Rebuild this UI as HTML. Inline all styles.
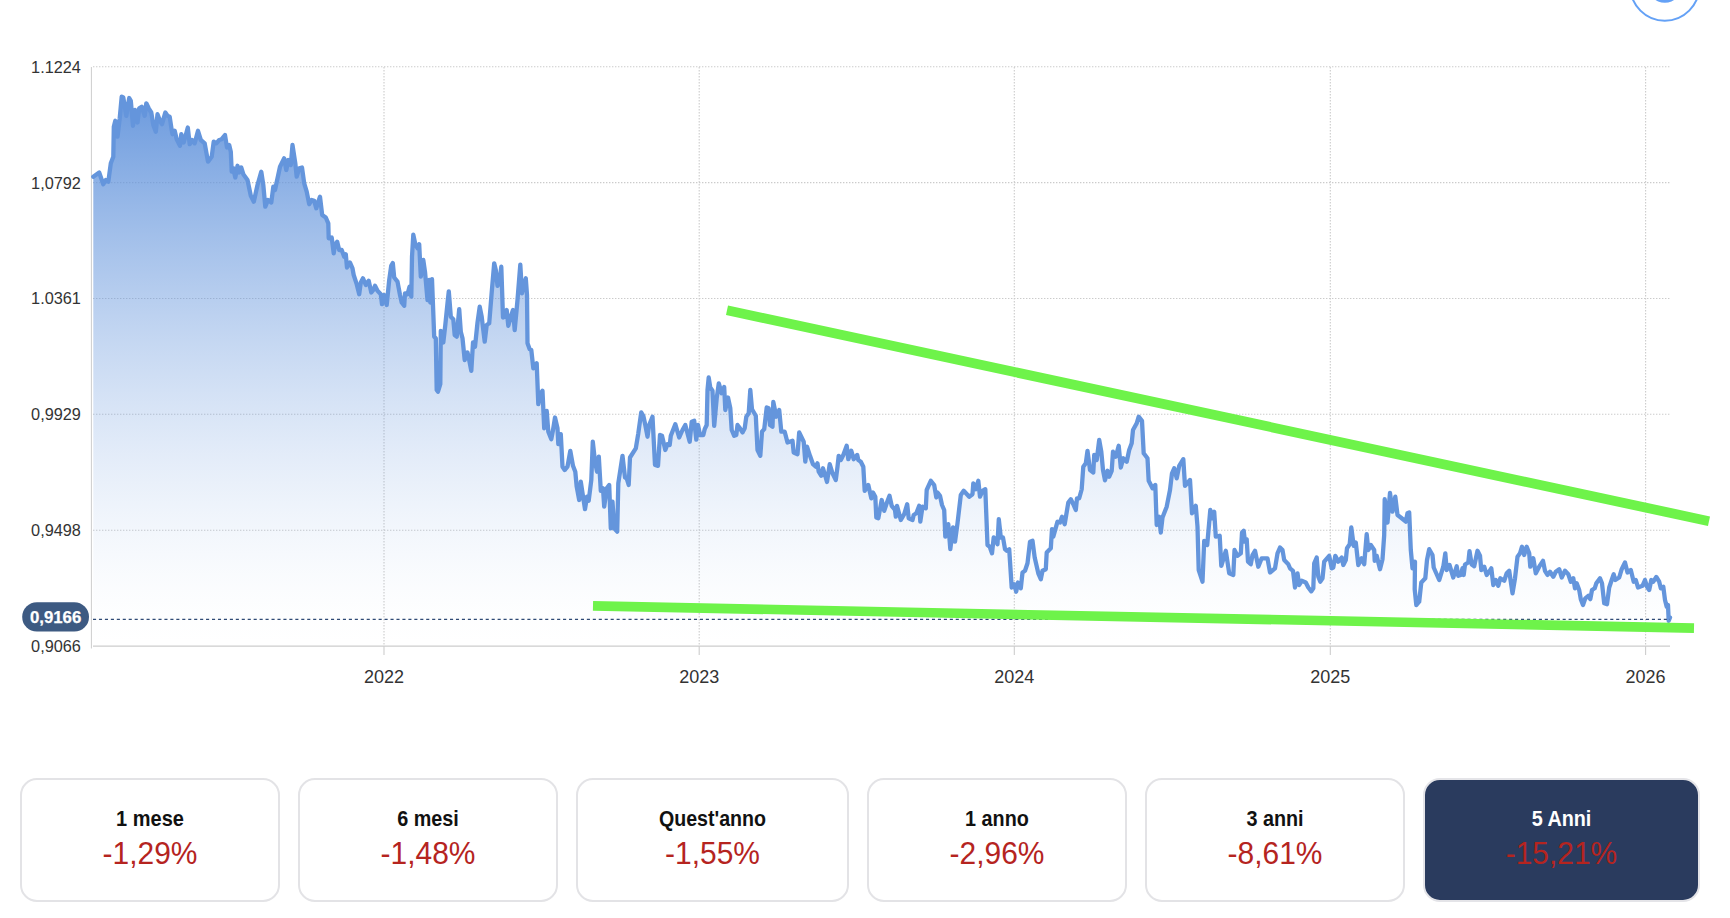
<!DOCTYPE html>
<html><head><meta charset="utf-8"><title>chart</title>
<style>
html,body{margin:0;padding:0;background:#fff;}
body{width:1730px;height:918px;position:relative;overflow:hidden;font-family:"Liberation Sans",sans-serif;}
svg text{font-family:"Liberation Sans",sans-serif;}
.card{position:absolute;top:778px;height:124px;box-sizing:border-box;border:2px solid #e3e3e6;border-radius:17px;background:#fff;text-align:center;}
.card.act{background:#2a3b5e;border-color:#e4e4e8;}
.card .l{position:absolute;left:0;right:0;top:26.5px;font-size:21.5px;line-height:24px;font-weight:bold;color:#111;}
.card.act .l{color:#fff;}
.card .v{position:absolute;left:0;right:0;top:53px;font-size:31.5px;line-height:40px;color:#b5241f;transform:scaleX(0.95);}
</style></head><body>
<svg width="1730" height="918" viewBox="0 0 1730 918" style="position:absolute;left:0;top:0">
<defs><linearGradient id="g" gradientUnits="userSpaceOnUse" x1="0" y1="96" x2="0" y2="646"><stop offset="0.00" stop-color="#6495dc" stop-opacity="0.955"/><stop offset="0.05" stop-color="#6495dc" stop-opacity="0.881"/><stop offset="0.10" stop-color="#6495dc" stop-opacity="0.809"/><stop offset="0.15" stop-color="#6495dc" stop-opacity="0.739"/><stop offset="0.20" stop-color="#6495dc" stop-opacity="0.671"/><stop offset="0.25" stop-color="#6495dc" stop-opacity="0.606"/><stop offset="0.30" stop-color="#6495dc" stop-opacity="0.544"/><stop offset="0.35" stop-color="#6495dc" stop-opacity="0.484"/><stop offset="0.40" stop-color="#6495dc" stop-opacity="0.426"/><stop offset="0.45" stop-color="#6495dc" stop-opacity="0.371"/><stop offset="0.50" stop-color="#6495dc" stop-opacity="0.319"/><stop offset="0.55" stop-color="#6495dc" stop-opacity="0.270"/><stop offset="0.60" stop-color="#6495dc" stop-opacity="0.225"/><stop offset="0.65" stop-color="#6495dc" stop-opacity="0.182"/><stop offset="0.70" stop-color="#6495dc" stop-opacity="0.143"/><stop offset="0.75" stop-color="#6495dc" stop-opacity="0.107"/><stop offset="0.80" stop-color="#6495dc" stop-opacity="0.075"/><stop offset="0.85" stop-color="#6495dc" stop-opacity="0.048"/><stop offset="0.90" stop-color="#6495dc" stop-opacity="0.025"/><stop offset="0.95" stop-color="#6495dc" stop-opacity="0.008"/><stop offset="1.00" stop-color="#6495dc" stop-opacity="0.000"/></linearGradient></defs>
<circle cx="1664.8" cy="-13.8" r="34.5" fill="none" stroke="#64a1f6" stroke-width="2"/>
<circle cx="1664.8" cy="-14.6" r="17.3" fill="#64a1f6"/>
<line x1="93" x2="1670" y1="66.8" y2="66.8" stroke="#cbcbcb" stroke-width="1.1" stroke-dasharray="1.4 1.6"/>
<line x1="93" x2="1670" y1="182.6" y2="182.6" stroke="#cbcbcb" stroke-width="1.1" stroke-dasharray="1.4 1.6"/>
<line x1="93" x2="1670" y1="298.5" y2="298.5" stroke="#cbcbcb" stroke-width="1.1" stroke-dasharray="1.4 1.6"/>
<line x1="93" x2="1670" y1="414.3" y2="414.3" stroke="#cbcbcb" stroke-width="1.1" stroke-dasharray="1.4 1.6"/>
<line x1="93" x2="1670" y1="530.2" y2="530.2" stroke="#cbcbcb" stroke-width="1.1" stroke-dasharray="1.4 1.6"/>
<line x1="384.0" x2="384.0" y1="67" y2="646" stroke="#cbcbcb" stroke-width="1.1" stroke-dasharray="1.4 1.6"/>
<line x1="699.2" x2="699.2" y1="67" y2="646" stroke="#cbcbcb" stroke-width="1.1" stroke-dasharray="1.4 1.6"/>
<line x1="1014.3" x2="1014.3" y1="67" y2="646" stroke="#cbcbcb" stroke-width="1.1" stroke-dasharray="1.4 1.6"/>
<line x1="1330.3" x2="1330.3" y1="67" y2="646" stroke="#cbcbcb" stroke-width="1.1" stroke-dasharray="1.4 1.6"/>
<line x1="1645.6" x2="1645.6" y1="67" y2="646" stroke="#cbcbcb" stroke-width="1.1" stroke-dasharray="1.4 1.6"/>
<path d="M93.3,176.7 L99.2,172.5 L103.3,184.2 L105.8,180.0 L108.3,181.7 L110.8,163.3 L113.3,156.7 L113.8,126.7 L115.3,120.8 L117.5,136.7 L119.7,118.3 L121.7,96.7 L123.3,97.5 L126.3,115.8 L129.2,98.0 L130.8,100.8 L133.0,125.8 L135.0,110.0 L137.5,122.5 L139.2,108.3 L141.7,106.7 L144.7,115.8 L146.3,103.3 L148.7,108.3 L151.3,112.5 L153.3,125.0 L155.8,131.7 L157.5,114.2 L160.0,120.8 L162.0,124.2 L165.3,112.5 L167.5,115.8 L169.7,116.7 L171.7,130.0 L172.5,134.2 L174.7,130.8 L176.7,139.2 L180.0,145.8 L181.3,134.2 L183.7,142.5 L185.8,135.0 L187.8,127.5 L189.7,144.2 L192.0,140.0 L194.7,143.3 L198.0,130.8 L200.8,140.0 L204.7,143.3 L208.0,161.7 L211.7,156.7 L213.7,141.7 L216.3,143.3 L219.2,140.0 L221.7,139.2 L225.0,135.0 L227.0,147.5 L229.2,145.0 L230.8,151.7 L231.7,171.7 L233.3,168.3 L235.3,177.5 L237.5,165.8 L239.2,172.5 L241.3,167.5 L243.3,174.2 L247.5,180.0 L250.8,195.8 L253.8,201.7 L257.5,185.0 L261.3,171.7 L263.3,185.0 L265.3,206.7 L268.0,200.0 L271.3,202.5 L273.3,186.7 L275.0,190.0 L280.0,166.7 L284.2,158.3 L286.3,170.0 L288.3,160.0 L290.8,165.0 L292.5,145.0 L295.3,163.3 L296.7,176.7 L299.2,168.3 L302.0,167.5 L304.2,183.3 L306.7,191.7 L309.2,204.2 L311.7,200.0 L314.2,200.8 L316.3,208.3 L318.3,201.7 L320.0,196.7 L322.2,215.0 L325.8,217.5 L328.3,223.3 L328.7,238.3 L331.7,237.5 L333.7,253.3 L335.0,245.0 L337.2,241.7 L339.2,250.0 L341.7,250.0 L344.2,256.7 L345.8,254.2 L347.0,267.5 L350.0,262.5 L352.5,268.3 L353.7,275.0 L356.7,284.2 L359.2,294.2 L360.8,282.5 L363.0,278.3 L365.8,285.0 L368.7,280.8 L371.3,292.5 L373.3,290.0 L375.0,285.8 L377.5,290.8 L380.8,294.2 L382.0,304.2 L384.2,295.0 L386.7,305.0 L389.2,280.0 L391.2,265.8 L392.8,263.0 L394.2,277.5 L397.5,281.7 L400.0,295.0 L401.7,302.5 L404.2,305.8 L405.0,293.3 L407.5,294.2 L409.5,286.7 L411.3,296.7 L412.0,256.7 L413.3,234.7 L415.3,244.2 L417.5,248.3 L419.2,244.2 L420.8,276.7 L423.3,260.0 L425.0,271.7 L427.5,300.0 L429.2,280.0 L430.3,302.5 L432.0,279.2 L434.2,336.7 L435.8,338.3 L436.7,390.0 L438.0,391.7 L440.3,384.2 L440.8,330.8 L443.3,342.5 L445.3,325.0 L447.5,303.3 L448.8,291.3 L450.8,316.7 L453.3,319.2 L454.7,335.0 L456.7,336.7 L459.2,309.2 L460.8,331.7 L462.5,338.3 L464.7,360.0 L467.5,352.5 L469.2,360.0 L471.3,370.8 L473.0,342.5 L475.0,346.7 L477.5,322.5 L479.7,306.7 L481.7,316.7 L484.7,341.7 L486.7,325.0 L489.2,323.3 L491.7,292.5 L494.2,263.3 L495.8,270.0 L497.5,285.8 L499.2,283.3 L501.3,266.7 L503.0,317.5 L505.0,316.7 L506.7,310.0 L508.3,325.8 L510.8,316.7 L513.0,310.0 L514.7,330.0 L517.5,300.0 L520.3,264.7 L522.0,293.3 L524.2,283.3 L525.8,278.3 L527.0,295.0 L527.5,343.3 L529.7,349.2 L531.3,350.0 L533.3,368.3 L536.7,363.3 L538.3,404.2 L540.8,393.3 L542.5,390.8 L544.2,428.3 L546.7,410.8 L548.3,431.7 L551.3,439.2 L553.0,430.0 L555.0,417.5 L557.5,428.3 L558.3,444.2 L560.8,434.2 L562.5,466.7 L564.7,470.0 L567.5,466.7 L570.3,450.8 L573.0,465.8 L575.3,471.7 L576.7,486.7 L579.2,500.0 L580.8,481.7 L583.3,498.3 L585.0,509.2 L587.0,496.7 L588.7,500.8 L591.3,480.0 L592.8,441.7 L595.0,461.7 L597.0,471.7 L598.8,456.7 L600.8,490.8 L603.0,488.3 L604.2,506.7 L606.7,488.3 L609.2,485.0 L610.8,528.3 L612.5,501.7 L614.2,528.3 L617.2,531.7 L618.3,483.3 L622.5,455.8 L625.0,477.5 L626.7,478.3 L628.7,485.0 L630.0,457.5 L635.8,448.3 L638.3,433.3 L641.2,412.5 L643.3,415.8 L645.3,425.0 L647.5,436.7 L649.2,425.0 L652.5,416.7 L655.0,465.0 L658.0,465.8 L660.0,435.0 L662.0,435.8 L665.3,450.0 L667.5,444.2 L669.7,445.0 L670.8,435.8 L675.3,424.2 L679.2,437.5 L682.5,430.0 L685.3,425.0 L689.7,441.7 L691.7,421.7 L694.2,420.8 L696.3,439.7 L698.0,425.0 L700.0,435.0 L703.3,435.0 L704.7,429.2 L706.7,425.0 L707.5,390.0 L708.7,377.5 L710.3,387.5 L712.5,390.8 L714.2,425.8 L716.7,398.3 L718.8,383.3 L721.7,393.3 L724.2,387.0 L725.3,410.0 L728.0,397.5 L730.3,408.3 L731.7,430.0 L734.2,435.8 L736.3,435.0 L737.5,425.0 L740.0,428.3 L742.5,432.5 L744.7,428.3 L746.3,416.7 L748.7,413.3 L750.3,390.0 L752.0,409.2 L755.8,415.8 L757.5,450.0 L760.3,455.8 L762.0,431.7 L764.2,429.2 L766.7,407.5 L768.7,408.3 L770.0,425.0 L772.5,426.7 L773.3,402.0 L776.3,416.7 L779.2,410.0 L781.3,431.7 L784.7,431.7 L787.5,442.5 L792.5,440.8 L793.7,452.5 L797.5,454.2 L799.2,432.5 L803.7,441.7 L805.3,461.7 L807.0,446.7 L810.0,455.8 L813.0,464.2 L815.8,466.7 L817.5,463.3 L818.7,471.7 L821.3,475.8 L823.0,468.3 L825.0,475.0 L827.0,482.0 L829.7,464.2 L832.5,473.3 L835.8,480.0 L837.5,466.7 L838.7,455.8 L840.8,460.0 L843.3,455.0 L846.7,445.8 L848.3,459.2 L851.3,450.8 L853.7,459.2 L857.2,455.0 L858.3,460.0 L860.8,461.7 L863.3,466.7 L864.7,490.8 L868.3,485.0 L871.3,498.3 L873.0,492.5 L875.3,496.7 L876.3,517.5 L878.3,518.3 L881.7,500.0 L884.2,510.8 L886.7,503.3 L889.5,495.8 L891.7,505.8 L895.0,510.0 L895.8,516.7 L897.0,505.8 L900.8,520.0 L904.2,514.2 L907.2,504.2 L908.7,518.3 L912.5,520.0 L913.7,515.0 L916.3,513.3 L919.2,505.8 L920.3,521.7 L922.5,506.7 L925.8,508.3 L926.7,490.0 L930.8,480.8 L934.2,485.0 L936.3,497.5 L937.5,492.5 L940.0,495.8 L942.0,505.0 L944.2,510.0 L945.3,536.7 L948.3,524.2 L950.3,549.2 L953.0,527.5 L955.0,541.7 L957.5,523.3 L960.8,495.0 L963.7,490.8 L969.2,496.7 L972.5,494.2 L973.3,483.3 L975.8,489.2 L978.3,480.8 L980.0,496.7 L982.5,490.8 L985.3,489.2 L987.5,545.0 L989.7,546.7 L992.0,553.3 L993.7,537.5 L995.8,540.0 L997.5,544.2 L998.8,519.2 L1000.8,537.5 L1003.0,537.5 L1005.0,549.2 L1006.7,550.8 L1009.2,549.2 L1011.7,587.5 L1014.2,584.2 L1016.2,591.7 L1018.0,582.5 L1020.8,588.3 L1022.5,572.5 L1025.0,570.8 L1027.5,563.3 L1030.0,541.7 L1032.5,540.8 L1034.7,557.5 L1038.3,573.3 L1040.8,579.2 L1042.5,570.8 L1045.8,569.2 L1046.7,552.5 L1050.8,548.3 L1052.0,529.2 L1053.3,536.7 L1057.5,521.7 L1060.0,522.5 L1062.0,516.7 L1064.7,524.2 L1068.3,502.5 L1070.8,499.2 L1073.3,504.2 L1075.8,510.0 L1077.0,498.3 L1079.2,498.3 L1081.7,489.2 L1083.3,466.7 L1085.8,463.3 L1087.5,450.8 L1090.0,470.0 L1093.3,472.5 L1094.2,455.0 L1096.7,460.0 L1099.2,440.0 L1101.3,451.7 L1103.0,470.0 L1105.0,480.3 L1107.5,470.8 L1109.2,476.7 L1111.7,470.8 L1113.0,451.7 L1115.8,456.7 L1118.7,445.8 L1120.8,467.5 L1123.3,458.3 L1126.7,461.7 L1129.2,450.0 L1131.7,443.3 L1133.0,430.0 L1136.7,423.3 L1138.7,416.7 L1142.0,420.8 L1143.7,453.3 L1147.5,458.3 L1148.7,480.8 L1152.5,488.3 L1155.3,485.0 L1156.7,525.0 L1159.2,516.7 L1160.8,532.5 L1162.5,517.5 L1166.7,506.7 L1170.0,490.0 L1172.0,473.3 L1174.2,468.3 L1176.7,478.3 L1179.2,465.8 L1183.3,459.2 L1185.0,485.8 L1190.0,480.0 L1192.0,513.3 L1195.8,505.8 L1197.5,526.7 L1198.7,570.0 L1202.5,581.7 L1204.2,540.8 L1207.2,545.0 L1210.3,510.0 L1212.0,518.3 L1214.2,511.7 L1215.8,536.7 L1219.7,535.8 L1221.3,565.8 L1225.8,550.8 L1229.2,573.3 L1233.3,575.0 L1234.5,550.0 L1237.5,555.8 L1240.8,553.3 L1242.0,532.5 L1243.7,530.8 L1245.0,541.7 L1246.7,539.2 L1248.0,561.7 L1250.8,564.2 L1252.5,555.0 L1255.0,550.8 L1258.3,566.7 L1261.7,558.3 L1267.5,558.3 L1270.0,572.5 L1275.0,568.3 L1277.5,553.3 L1280.0,547.5 L1282.5,550.0 L1284.2,560.0 L1288.3,564.2 L1290.0,568.3 L1293.0,570.8 L1295.0,587.5 L1297.5,573.3 L1299.2,585.0 L1301.7,580.8 L1305.8,582.5 L1308.3,587.5 L1311.3,591.3 L1313.3,588.3 L1314.2,563.3 L1316.7,557.5 L1318.3,576.7 L1320.3,581.7 L1322.5,578.3 L1324.2,561.7 L1329.2,555.8 L1331.7,568.3 L1333.3,567.5 L1335.3,555.8 L1338.3,561.7 L1341.7,557.5 L1343.3,565.0 L1345.8,560.0 L1347.0,548.3 L1349.7,544.2 L1351.3,527.5 L1353.7,545.8 L1355.8,542.5 L1358.3,565.0 L1361.7,558.3 L1364.2,564.2 L1366.7,534.2 L1368.3,550.0 L1370.8,545.0 L1374.2,550.0 L1374.7,560.8 L1376.7,555.8 L1380.0,569.2 L1382.5,559.2 L1384.2,535.0 L1384.7,499.2 L1387.5,522.5 L1390.0,493.0 L1392.5,511.7 L1395.3,496.7 L1397.5,515.0 L1400.8,517.5 L1405.8,521.7 L1407.5,513.3 L1409.2,512.5 L1410.8,550.0 L1412.5,568.3 L1415.0,561.7 L1414.7,589.2 L1416.3,605.0 L1419.2,601.7 L1421.3,582.5 L1425.3,578.3 L1427.0,560.0 L1429.2,549.2 L1432.5,555.0 L1433.7,567.5 L1439.2,580.0 L1443.3,566.7 L1445.3,553.3 L1446.7,570.0 L1449.5,565.0 L1453.3,577.5 L1456.7,566.3 L1458.3,575.8 L1460.8,575.0 L1462.5,568.3 L1463.7,575.0 L1465.0,564.5 L1468.3,562.5 L1469.5,551.2 L1471.7,564.5 L1474.2,566.3 L1477.5,550.8 L1480.0,555.8 L1481.3,570.0 L1484.2,566.7 L1486.7,575.0 L1489.2,571.7 L1491.3,568.3 L1493.3,585.0 L1495.8,580.0 L1498.3,585.8 L1500.3,578.3 L1504.2,580.8 L1506.7,573.3 L1509.2,570.8 L1510.8,581.7 L1512.5,593.3 L1515.0,578.3 L1517.5,556.7 L1520.0,553.3 L1522.0,546.7 L1524.2,555.0 L1526.7,546.7 L1529.2,553.3 L1530.3,566.7 L1533.3,558.3 L1535.8,573.3 L1539.2,566.7 L1543.0,560.8 L1545.0,570.8 L1547.5,575.0 L1550.0,571.7 L1553.3,576.7 L1555.8,571.7 L1559.2,569.2 L1561.7,577.5 L1565.0,570.8 L1568.3,574.2 L1570.8,581.7 L1573.3,578.3 L1575.0,588.3 L1576.7,583.3 L1579.2,590.0 L1580.8,599.2 L1583.0,605.0 L1585.3,598.3 L1588.3,595.8 L1590.3,599.2 L1592.0,590.0 L1594.7,588.3 L1596.3,583.3 L1600.0,578.3 L1602.0,583.3 L1604.2,603.3 L1607.0,604.2 L1609.2,587.5 L1611.7,580.0 L1613.7,574.2 L1615.3,580.0 L1619.2,577.5 L1621.7,569.2 L1625.0,562.5 L1627.5,572.5 L1630.8,570.0 L1633.7,581.7 L1635.8,580.0 L1638.0,587.5 L1642.5,585.8 L1645.0,580.0 L1647.0,586.7 L1649.2,590.0 L1651.3,580.0 L1653.3,581.7 L1656.3,577.0 L1659.2,581.7 L1660.8,588.3 L1663.3,586.7 L1665.0,600.0 L1666.7,606.7 L1668.0,605.0 L1668.7,620.8 L1670.0,617.5 L1670.0,646 L93.3,646 Z" fill="url(#g)" stroke="none"/>
<line x1="91.4" x2="91.4" y1="67" y2="648.5" stroke="#cdcdcd" stroke-width="1"/>
<line x1="93" x2="1670" y1="646.1" y2="646.1" stroke="#cdcdcd" stroke-width="1.1"/>
<line x1="384.0" x2="384.0" y1="646" y2="655" stroke="#cdcdcd" stroke-width="1.1"/>
<line x1="699.2" x2="699.2" y1="646" y2="655" stroke="#cdcdcd" stroke-width="1.1"/>
<line x1="1014.3" x2="1014.3" y1="646" y2="655" stroke="#cdcdcd" stroke-width="1.1"/>
<line x1="1330.3" x2="1330.3" y1="646" y2="655" stroke="#cdcdcd" stroke-width="1.1"/>
<line x1="1645.6" x2="1645.6" y1="646" y2="655" stroke="#cdcdcd" stroke-width="1.1"/>
<path d="M93.3,176.7 L99.2,172.5 L103.3,184.2 L105.8,180.0 L108.3,181.7 L110.8,163.3 L113.3,156.7 L113.8,126.7 L115.3,120.8 L117.5,136.7 L119.7,118.3 L121.7,96.7 L123.3,97.5 L126.3,115.8 L129.2,98.0 L130.8,100.8 L133.0,125.8 L135.0,110.0 L137.5,122.5 L139.2,108.3 L141.7,106.7 L144.7,115.8 L146.3,103.3 L148.7,108.3 L151.3,112.5 L153.3,125.0 L155.8,131.7 L157.5,114.2 L160.0,120.8 L162.0,124.2 L165.3,112.5 L167.5,115.8 L169.7,116.7 L171.7,130.0 L172.5,134.2 L174.7,130.8 L176.7,139.2 L180.0,145.8 L181.3,134.2 L183.7,142.5 L185.8,135.0 L187.8,127.5 L189.7,144.2 L192.0,140.0 L194.7,143.3 L198.0,130.8 L200.8,140.0 L204.7,143.3 L208.0,161.7 L211.7,156.7 L213.7,141.7 L216.3,143.3 L219.2,140.0 L221.7,139.2 L225.0,135.0 L227.0,147.5 L229.2,145.0 L230.8,151.7 L231.7,171.7 L233.3,168.3 L235.3,177.5 L237.5,165.8 L239.2,172.5 L241.3,167.5 L243.3,174.2 L247.5,180.0 L250.8,195.8 L253.8,201.7 L257.5,185.0 L261.3,171.7 L263.3,185.0 L265.3,206.7 L268.0,200.0 L271.3,202.5 L273.3,186.7 L275.0,190.0 L280.0,166.7 L284.2,158.3 L286.3,170.0 L288.3,160.0 L290.8,165.0 L292.5,145.0 L295.3,163.3 L296.7,176.7 L299.2,168.3 L302.0,167.5 L304.2,183.3 L306.7,191.7 L309.2,204.2 L311.7,200.0 L314.2,200.8 L316.3,208.3 L318.3,201.7 L320.0,196.7 L322.2,215.0 L325.8,217.5 L328.3,223.3 L328.7,238.3 L331.7,237.5 L333.7,253.3 L335.0,245.0 L337.2,241.7 L339.2,250.0 L341.7,250.0 L344.2,256.7 L345.8,254.2 L347.0,267.5 L350.0,262.5 L352.5,268.3 L353.7,275.0 L356.7,284.2 L359.2,294.2 L360.8,282.5 L363.0,278.3 L365.8,285.0 L368.7,280.8 L371.3,292.5 L373.3,290.0 L375.0,285.8 L377.5,290.8 L380.8,294.2 L382.0,304.2 L384.2,295.0 L386.7,305.0 L389.2,280.0 L391.2,265.8 L392.8,263.0 L394.2,277.5 L397.5,281.7 L400.0,295.0 L401.7,302.5 L404.2,305.8 L405.0,293.3 L407.5,294.2 L409.5,286.7 L411.3,296.7 L412.0,256.7 L413.3,234.7 L415.3,244.2 L417.5,248.3 L419.2,244.2 L420.8,276.7 L423.3,260.0 L425.0,271.7 L427.5,300.0 L429.2,280.0 L430.3,302.5 L432.0,279.2 L434.2,336.7 L435.8,338.3 L436.7,390.0 L438.0,391.7 L440.3,384.2 L440.8,330.8 L443.3,342.5 L445.3,325.0 L447.5,303.3 L448.8,291.3 L450.8,316.7 L453.3,319.2 L454.7,335.0 L456.7,336.7 L459.2,309.2 L460.8,331.7 L462.5,338.3 L464.7,360.0 L467.5,352.5 L469.2,360.0 L471.3,370.8 L473.0,342.5 L475.0,346.7 L477.5,322.5 L479.7,306.7 L481.7,316.7 L484.7,341.7 L486.7,325.0 L489.2,323.3 L491.7,292.5 L494.2,263.3 L495.8,270.0 L497.5,285.8 L499.2,283.3 L501.3,266.7 L503.0,317.5 L505.0,316.7 L506.7,310.0 L508.3,325.8 L510.8,316.7 L513.0,310.0 L514.7,330.0 L517.5,300.0 L520.3,264.7 L522.0,293.3 L524.2,283.3 L525.8,278.3 L527.0,295.0 L527.5,343.3 L529.7,349.2 L531.3,350.0 L533.3,368.3 L536.7,363.3 L538.3,404.2 L540.8,393.3 L542.5,390.8 L544.2,428.3 L546.7,410.8 L548.3,431.7 L551.3,439.2 L553.0,430.0 L555.0,417.5 L557.5,428.3 L558.3,444.2 L560.8,434.2 L562.5,466.7 L564.7,470.0 L567.5,466.7 L570.3,450.8 L573.0,465.8 L575.3,471.7 L576.7,486.7 L579.2,500.0 L580.8,481.7 L583.3,498.3 L585.0,509.2 L587.0,496.7 L588.7,500.8 L591.3,480.0 L592.8,441.7 L595.0,461.7 L597.0,471.7 L598.8,456.7 L600.8,490.8 L603.0,488.3 L604.2,506.7 L606.7,488.3 L609.2,485.0 L610.8,528.3 L612.5,501.7 L614.2,528.3 L617.2,531.7 L618.3,483.3 L622.5,455.8 L625.0,477.5 L626.7,478.3 L628.7,485.0 L630.0,457.5 L635.8,448.3 L638.3,433.3 L641.2,412.5 L643.3,415.8 L645.3,425.0 L647.5,436.7 L649.2,425.0 L652.5,416.7 L655.0,465.0 L658.0,465.8 L660.0,435.0 L662.0,435.8 L665.3,450.0 L667.5,444.2 L669.7,445.0 L670.8,435.8 L675.3,424.2 L679.2,437.5 L682.5,430.0 L685.3,425.0 L689.7,441.7 L691.7,421.7 L694.2,420.8 L696.3,439.7 L698.0,425.0 L700.0,435.0 L703.3,435.0 L704.7,429.2 L706.7,425.0 L707.5,390.0 L708.7,377.5 L710.3,387.5 L712.5,390.8 L714.2,425.8 L716.7,398.3 L718.8,383.3 L721.7,393.3 L724.2,387.0 L725.3,410.0 L728.0,397.5 L730.3,408.3 L731.7,430.0 L734.2,435.8 L736.3,435.0 L737.5,425.0 L740.0,428.3 L742.5,432.5 L744.7,428.3 L746.3,416.7 L748.7,413.3 L750.3,390.0 L752.0,409.2 L755.8,415.8 L757.5,450.0 L760.3,455.8 L762.0,431.7 L764.2,429.2 L766.7,407.5 L768.7,408.3 L770.0,425.0 L772.5,426.7 L773.3,402.0 L776.3,416.7 L779.2,410.0 L781.3,431.7 L784.7,431.7 L787.5,442.5 L792.5,440.8 L793.7,452.5 L797.5,454.2 L799.2,432.5 L803.7,441.7 L805.3,461.7 L807.0,446.7 L810.0,455.8 L813.0,464.2 L815.8,466.7 L817.5,463.3 L818.7,471.7 L821.3,475.8 L823.0,468.3 L825.0,475.0 L827.0,482.0 L829.7,464.2 L832.5,473.3 L835.8,480.0 L837.5,466.7 L838.7,455.8 L840.8,460.0 L843.3,455.0 L846.7,445.8 L848.3,459.2 L851.3,450.8 L853.7,459.2 L857.2,455.0 L858.3,460.0 L860.8,461.7 L863.3,466.7 L864.7,490.8 L868.3,485.0 L871.3,498.3 L873.0,492.5 L875.3,496.7 L876.3,517.5 L878.3,518.3 L881.7,500.0 L884.2,510.8 L886.7,503.3 L889.5,495.8 L891.7,505.8 L895.0,510.0 L895.8,516.7 L897.0,505.8 L900.8,520.0 L904.2,514.2 L907.2,504.2 L908.7,518.3 L912.5,520.0 L913.7,515.0 L916.3,513.3 L919.2,505.8 L920.3,521.7 L922.5,506.7 L925.8,508.3 L926.7,490.0 L930.8,480.8 L934.2,485.0 L936.3,497.5 L937.5,492.5 L940.0,495.8 L942.0,505.0 L944.2,510.0 L945.3,536.7 L948.3,524.2 L950.3,549.2 L953.0,527.5 L955.0,541.7 L957.5,523.3 L960.8,495.0 L963.7,490.8 L969.2,496.7 L972.5,494.2 L973.3,483.3 L975.8,489.2 L978.3,480.8 L980.0,496.7 L982.5,490.8 L985.3,489.2 L987.5,545.0 L989.7,546.7 L992.0,553.3 L993.7,537.5 L995.8,540.0 L997.5,544.2 L998.8,519.2 L1000.8,537.5 L1003.0,537.5 L1005.0,549.2 L1006.7,550.8 L1009.2,549.2 L1011.7,587.5 L1014.2,584.2 L1016.2,591.7 L1018.0,582.5 L1020.8,588.3 L1022.5,572.5 L1025.0,570.8 L1027.5,563.3 L1030.0,541.7 L1032.5,540.8 L1034.7,557.5 L1038.3,573.3 L1040.8,579.2 L1042.5,570.8 L1045.8,569.2 L1046.7,552.5 L1050.8,548.3 L1052.0,529.2 L1053.3,536.7 L1057.5,521.7 L1060.0,522.5 L1062.0,516.7 L1064.7,524.2 L1068.3,502.5 L1070.8,499.2 L1073.3,504.2 L1075.8,510.0 L1077.0,498.3 L1079.2,498.3 L1081.7,489.2 L1083.3,466.7 L1085.8,463.3 L1087.5,450.8 L1090.0,470.0 L1093.3,472.5 L1094.2,455.0 L1096.7,460.0 L1099.2,440.0 L1101.3,451.7 L1103.0,470.0 L1105.0,480.3 L1107.5,470.8 L1109.2,476.7 L1111.7,470.8 L1113.0,451.7 L1115.8,456.7 L1118.7,445.8 L1120.8,467.5 L1123.3,458.3 L1126.7,461.7 L1129.2,450.0 L1131.7,443.3 L1133.0,430.0 L1136.7,423.3 L1138.7,416.7 L1142.0,420.8 L1143.7,453.3 L1147.5,458.3 L1148.7,480.8 L1152.5,488.3 L1155.3,485.0 L1156.7,525.0 L1159.2,516.7 L1160.8,532.5 L1162.5,517.5 L1166.7,506.7 L1170.0,490.0 L1172.0,473.3 L1174.2,468.3 L1176.7,478.3 L1179.2,465.8 L1183.3,459.2 L1185.0,485.8 L1190.0,480.0 L1192.0,513.3 L1195.8,505.8 L1197.5,526.7 L1198.7,570.0 L1202.5,581.7 L1204.2,540.8 L1207.2,545.0 L1210.3,510.0 L1212.0,518.3 L1214.2,511.7 L1215.8,536.7 L1219.7,535.8 L1221.3,565.8 L1225.8,550.8 L1229.2,573.3 L1233.3,575.0 L1234.5,550.0 L1237.5,555.8 L1240.8,553.3 L1242.0,532.5 L1243.7,530.8 L1245.0,541.7 L1246.7,539.2 L1248.0,561.7 L1250.8,564.2 L1252.5,555.0 L1255.0,550.8 L1258.3,566.7 L1261.7,558.3 L1267.5,558.3 L1270.0,572.5 L1275.0,568.3 L1277.5,553.3 L1280.0,547.5 L1282.5,550.0 L1284.2,560.0 L1288.3,564.2 L1290.0,568.3 L1293.0,570.8 L1295.0,587.5 L1297.5,573.3 L1299.2,585.0 L1301.7,580.8 L1305.8,582.5 L1308.3,587.5 L1311.3,591.3 L1313.3,588.3 L1314.2,563.3 L1316.7,557.5 L1318.3,576.7 L1320.3,581.7 L1322.5,578.3 L1324.2,561.7 L1329.2,555.8 L1331.7,568.3 L1333.3,567.5 L1335.3,555.8 L1338.3,561.7 L1341.7,557.5 L1343.3,565.0 L1345.8,560.0 L1347.0,548.3 L1349.7,544.2 L1351.3,527.5 L1353.7,545.8 L1355.8,542.5 L1358.3,565.0 L1361.7,558.3 L1364.2,564.2 L1366.7,534.2 L1368.3,550.0 L1370.8,545.0 L1374.2,550.0 L1374.7,560.8 L1376.7,555.8 L1380.0,569.2 L1382.5,559.2 L1384.2,535.0 L1384.7,499.2 L1387.5,522.5 L1390.0,493.0 L1392.5,511.7 L1395.3,496.7 L1397.5,515.0 L1400.8,517.5 L1405.8,521.7 L1407.5,513.3 L1409.2,512.5 L1410.8,550.0 L1412.5,568.3 L1415.0,561.7 L1414.7,589.2 L1416.3,605.0 L1419.2,601.7 L1421.3,582.5 L1425.3,578.3 L1427.0,560.0 L1429.2,549.2 L1432.5,555.0 L1433.7,567.5 L1439.2,580.0 L1443.3,566.7 L1445.3,553.3 L1446.7,570.0 L1449.5,565.0 L1453.3,577.5 L1456.7,566.3 L1458.3,575.8 L1460.8,575.0 L1462.5,568.3 L1463.7,575.0 L1465.0,564.5 L1468.3,562.5 L1469.5,551.2 L1471.7,564.5 L1474.2,566.3 L1477.5,550.8 L1480.0,555.8 L1481.3,570.0 L1484.2,566.7 L1486.7,575.0 L1489.2,571.7 L1491.3,568.3 L1493.3,585.0 L1495.8,580.0 L1498.3,585.8 L1500.3,578.3 L1504.2,580.8 L1506.7,573.3 L1509.2,570.8 L1510.8,581.7 L1512.5,593.3 L1515.0,578.3 L1517.5,556.7 L1520.0,553.3 L1522.0,546.7 L1524.2,555.0 L1526.7,546.7 L1529.2,553.3 L1530.3,566.7 L1533.3,558.3 L1535.8,573.3 L1539.2,566.7 L1543.0,560.8 L1545.0,570.8 L1547.5,575.0 L1550.0,571.7 L1553.3,576.7 L1555.8,571.7 L1559.2,569.2 L1561.7,577.5 L1565.0,570.8 L1568.3,574.2 L1570.8,581.7 L1573.3,578.3 L1575.0,588.3 L1576.7,583.3 L1579.2,590.0 L1580.8,599.2 L1583.0,605.0 L1585.3,598.3 L1588.3,595.8 L1590.3,599.2 L1592.0,590.0 L1594.7,588.3 L1596.3,583.3 L1600.0,578.3 L1602.0,583.3 L1604.2,603.3 L1607.0,604.2 L1609.2,587.5 L1611.7,580.0 L1613.7,574.2 L1615.3,580.0 L1619.2,577.5 L1621.7,569.2 L1625.0,562.5 L1627.5,572.5 L1630.8,570.0 L1633.7,581.7 L1635.8,580.0 L1638.0,587.5 L1642.5,585.8 L1645.0,580.0 L1647.0,586.7 L1649.2,590.0 L1651.3,580.0 L1653.3,581.7 L1656.3,577.0 L1659.2,581.7 L1660.8,588.3 L1663.3,586.7 L1665.0,600.0 L1666.7,606.7 L1668.0,605.0 L1668.7,620.8 L1670.0,617.5" fill="none" stroke="#6495dc" stroke-width="4.3" stroke-linejoin="round" stroke-linecap="round"/>
<line x1="93" x2="1670" y1="619.4" y2="619.4" stroke="#2f4a75" stroke-width="1.4" stroke-dasharray="3.1 2.85"/>
<text x="80.9" y="72.7" text-anchor="end" font-size="16.3" fill="#333">1.1224</text>
<text x="80.9" y="188.5" text-anchor="end" font-size="16.3" fill="#333">1,0792</text>
<text x="80.9" y="304.4" text-anchor="end" font-size="16.3" fill="#333">1.0361</text>
<text x="80.9" y="420.2" text-anchor="end" font-size="16.3" fill="#333">0,9929</text>
<text x="80.9" y="536.1" text-anchor="end" font-size="16.3" fill="#333">0,9498</text>
<text x="80.9" y="651.9" text-anchor="end" font-size="16.3" fill="#333">0,9066</text>
<text x="384.0" y="683.3" text-anchor="middle" font-size="18" fill="#333">2022</text>
<text x="699.2" y="683.3" text-anchor="middle" font-size="18" fill="#333">2023</text>
<text x="1014.3" y="683.3" text-anchor="middle" font-size="18" fill="#333">2024</text>
<text x="1330.3" y="683.3" text-anchor="middle" font-size="18" fill="#333">2025</text>
<text x="1645.6" y="683.3" text-anchor="middle" font-size="18" fill="#333">2026</text>
<rect x="22.2" y="602.2" width="66.8" height="29.4" rx="14.7" fill="#3d5a82"/>
<text x="29.9" y="623.2" font-size="16.9" font-weight="bold" fill="#fff" stroke="#fff" stroke-width="0.25" textLength="51.4" lengthAdjust="spacingAndGlyphs">0,9166</text>
<line x1="727" y1="310.3" x2="1709" y2="521.2" stroke="#6ef34a" stroke-width="9.8"/>
<line x1="593" y1="605.9" x2="1694" y2="628.1" stroke="#6ef34a" stroke-width="9.6"/>
</svg>
<div class="card" style="left:20px;width:260px"><div class="l" style="transform:scaleX(0.93)">1 mese</div><div class="v">-1,29%</div></div>
<div class="card" style="left:298px;width:260px"><div class="l" style="transform:scaleX(0.92)">6 mesi</div><div class="v">-1,48%</div></div>
<div class="card" style="left:576px;width:273px"><div class="l" style="transform:scaleX(0.912)">Quest'anno</div><div class="v">-1,55%</div></div>
<div class="card" style="left:867px;width:260px"><div class="l" style="transform:scaleX(0.92)">1 anno</div><div class="v">-2,96%</div></div>
<div class="card" style="left:1145px;width:260px"><div class="l" style="transform:scaleX(0.92)">3 anni</div><div class="v">-8,61%</div></div>
<div class="card act" style="left:1423px;width:277px"><div class="l" style="transform:scaleX(0.92)">5 Anni</div><div class="v">-15,21%</div></div>
</body></html>
